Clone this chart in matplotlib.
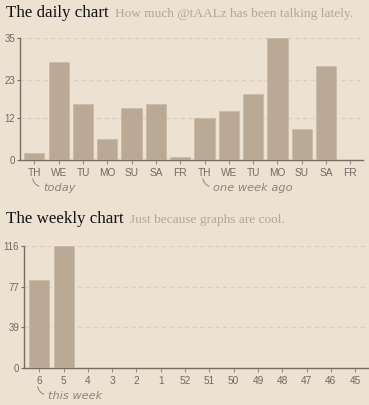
import matplotlib
matplotlib.use("Agg")
import matplotlib.pyplot as plt
import numpy as np

# ---- data ----
daily_labels = ["TH", "WE", "TU", "MO", "SU", "SA", "FR",
                "TH", "WE", "TU", "MO", "SU", "SA", "FR"]
daily_values = [2, 28, 16, 6, 15, 16, 1, 12, 14, 19, 35, 9, 27, 0]
daily_yticks = [0, 12, 23, 35]

weekly_labels = ["6", "5", "4", "3", "2", "1", "52", "51", "50", "49", "48", "47", "46", "45"]
weekly_values = [84, 116, 0, 0, 0, 0, 0, 0, 0, 0, 0, 0, 0, 0]
weekly_yticks = [0, 39, 77, 116]

BG = "#ede1d2"
BAR = "#b9a995"
AXIS = "#776d63"
TICKTXT = "#6f6a66"
GRID = "#dbcfbf"
SUB = "#b3a796"
ANN = "#8c847c"

W, H = 369, 405
fig = plt.figure(figsize=(W / 100, H / 100), dpi=100, facecolor=BG)


def px_axes(left, top, right, bottom):
    return fig.add_axes([left / W, 1 - bottom / H, (right - left) / W, (bottom - top) / H])


def style(ax, labels, values, yticks, xlim):
    ax.set_facecolor(BG)
    x = np.arange(len(values))
    ax.bar(x, values, width=0.83, color=BAR, edgecolor="#c7b9a6", linewidth=0.5, zorder=3)
    ax.set_xlim(*xlim)
    ax.set_ylim(0, yticks[-1])
    ax.set_xticks(x)
    ax.set_xticklabels(labels)
    ax.set_yticks(yticks)
    ax.set_yticklabels([str(v) for v in yticks])
    for v in yticks[1:]:
        ax.axhline(v, color=GRID, linewidth=1, linestyle=(0, (3, 2.5)), zorder=1)
    for s in ["top", "right"]:
        ax.spines[s].set_visible(False)
    for s in ["left", "bottom"]:
        ax.spines[s].set_color(AXIS)
        ax.spines[s].set_linewidth(1)
    ax.tick_params(axis="x", length=3, width=0.8, color="#9a9086", pad=2.5,
                   labelsize=7.3, labelcolor=TICKTXT)
    ax.tick_params(axis="y", length=2, width=0.8, color=AXIS, pad=1.5,
                   labelsize=7, labelcolor=TICKTXT)
    for t in ax.get_xticklabels() + ax.get_yticklabels():
        t.set_fontfamily("Liberation Sans")


ax1 = px_axes(20, 38, 363, 160)
style(ax1, daily_labels, daily_values, daily_yticks, (-0.59, 13.52))

ax2 = px_axes(24, 246, 368, 368)
style(ax2, weekly_labels, weekly_values, weekly_yticks, (-0.63, 13.53))


def ftext(x, y, s, **kw):
    fig.text(x / W, 1 - y / H, s, va="baseline", ha="left", **kw)


ftext(6, 17, "The daily chart", fontsize=12.2, family="Liberation Serif", color="#111111")
ftext(115, 17, "How much @tAALz has been talking lately.", fontsize=9.6,
      family="Liberation Serif", color=SUB)
ftext(6, 223, "The weekly chart", fontsize=12.2, family="Liberation Serif", color="#111111")
ftext(130, 223, "Just because graphs are cool.", fontsize=9.6,
      family="Liberation Serif", color=SUB)


def note(ax, xi, text, base_px):
    # small curved stroke from under tick label to the note text
    trans = ax.get_xaxis_transform()
    h = ax.bbox.height
    ax.annotate("", xy=(xi + 0.30, -(187 - 160) / h),
                xytext=(xi - 0.08, -(176 - 160) / h),
                xycoords=trans, textcoords=trans,
                arrowprops=dict(arrowstyle="-", color=ANN, lw=0.7,
                                connectionstyle="arc3,rad=0.4"),
                annotation_clip=False)
    ax.text(xi + 0.36, -(191 - 160) / h, text, transform=trans,
            fontsize=8.2, style="italic", family="DejaVu Sans", color=ANN,
            va="baseline", ha="left")


fig.canvas.draw()
note(ax1, 0, "today", 160)
note(ax1, 7, "one week ago", 160)
note(ax2, 0, "this week", 368)

fig.savefig("out.png", dpi=100, facecolor=BG)
